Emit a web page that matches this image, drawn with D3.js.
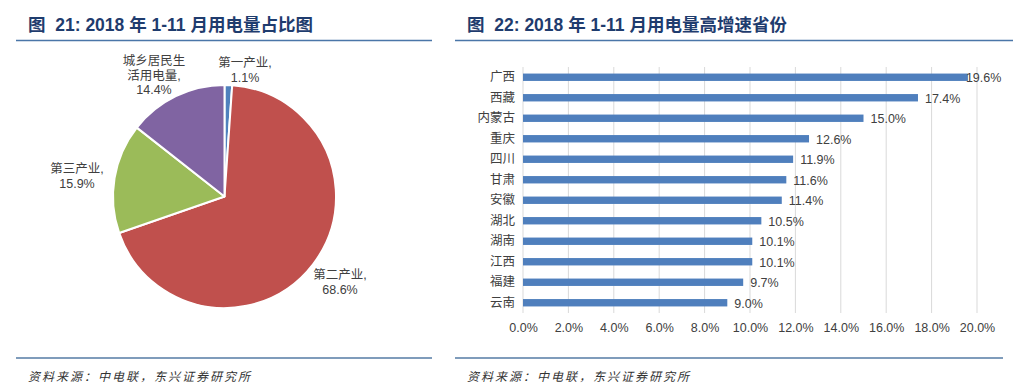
<!DOCTYPE html>
<html><head><meta charset="utf-8">
<script src="https://cdn.jsdelivr.net/npm/d3@7"></script>
<style>
body{margin:0;background:#fff;}
svg{display:block;}
text{font-family:"Liberation Sans","Noto Sans CJK SC",sans-serif;}
</style></head><body>
<svg id="c" width="1035" height="390"></svg>
<script>
// Pie data
const pieCategories = ["第一产业", "第二产业", "第三产业", "城乡居民生活用电量"];
const pieValues = [1.1, 68.6, 15.9, 14.4];
const pieColors = ["#4f81bd", "#c0504d", "#9bbb59", "#8064a2"];
// Bar data
const provinces = ["广西","西藏","内蒙古","重庆","四川","甘肃","安徽","湖北","湖南","江西","福建","云南"];
const growth = [19.6, 17.4, 15.0, 12.6, 11.9, 11.6, 11.4, 10.5, 10.1, 10.1, 9.7, 9.0];
const xTicks = [0,2,4,6,8,10,12,14,16,18,20];

const svg = d3.select("#c");
const titleColor = "#1f3c6e";
const lineColor = "#4a76a8";

// Titles and frame lines
const titles = [
  {x:28, text:"图  21: 2018 年 1-11 月用电量占比图", x1:16, x2:432, bx2:432},
  {x:467, text:"图  22: 2018 年 1-11 月用电量高增速省份", x1:455, x2:1013, bx2:1003}
];
titles.forEach(t=>{
  svg.append("text").attr("x",t.x).attr("y",31).attr("font-size",17.5).attr("font-weight","bold")
    .attr("fill",titleColor).attr("xml:space","preserve").style("white-space","pre")
    .attr("font-family","'Liberation Sans','Noto Sans CJK SC',sans-serif").text(t.text);
  svg.append("line").attr("x1",t.x1).attr("x2",t.x2).attr("y1",40.5).attr("y2",40.5)
    .attr("stroke",lineColor).attr("stroke-width",1.5);
  svg.append("line").attr("x1",t.x1).attr("x2",t.bx2).attr("y1",358).attr("y2",358)
    .attr("stroke","#7f9cbb").attr("stroke-width",2);
  svg.append("text").attr("x",t.x1+12).attr("y",381).attr("font-size",12).attr("font-style","italic")
    .attr("fill","#333").attr("font-family","'Noto Sans CJK SC',sans-serif").attr("letter-spacing",2)
    .text("资料来源：中电联，东兴证券研究所");
});

// Pie
const cx = 224.5, cy = 196.5, R = 111.5;
const pie = d3.pie().sort(null).value(d=>d)(pieValues);
const arc = d3.arc().innerRadius(0).outerRadius(R);
const pg = svg.append("g").attr("transform",`translate(${cx},${cy})`);
pg.selectAll("path").data(pie).join("path").attr("d",arc)
  .attr("fill",(d,i)=>pieColors[i]).attr("stroke","#fff").attr("stroke-width",2).attr("stroke-linejoin","round");

const pieLabels = [
  {lines:["第一产业,","1.1%"], x:245, y:67},
  {lines:["第二产业,","68.6%"], x:340, y:279},
  {lines:["第三产业,","15.9%"], x:77, y:173},
  {lines:["城乡居民生","活用电量,","14.4%"], x:154, y:65}
];
pieLabels.forEach((l,i)=>{
  const t = svg.append("text").attr("text-anchor","middle").attr("font-size",12.5).attr("fill","#404040")
    .attr("font-family","'Noto Sans CJK SC',sans-serif");
  l.lines.forEach((s,j)=>{
    t.append("tspan").attr("x",l.x).attr("y",l.y + j*14.5).text(s);
  });
});

// Bar chart
const x = d3.scaleLinear().domain([0,20]).range([523,977]);
const y = d3.scaleBand().domain(provinces).range([67,313]).paddingInner(0.64).paddingOuter(0.32);
const bg = svg.append("g");
bg.selectAll("line.grid").data(xTicks).join("line").attr("class","grid")
  .attr("x1",d=>x(d)).attr("x2",d=>x(d)).attr("y1",67).attr("y2",313)
  .attr("stroke","#d9d9d9").attr("stroke-width",1);
bg.selectAll("rect").data(growth).join("rect")
  .attr("x",x(0)).attr("y",(d,i)=>y(provinces[i])).attr("width",d=>x(d)-x(0)).attr("height",y.bandwidth())
  .attr("fill","#4f7fbd");
bg.selectAll("text.val").data(growth).join("text").attr("class","val")
  .attr("x",d=>x(d)+(d>19?-2:7)).attr("y",(d,i)=>y(provinces[i])+y.bandwidth()/2+5)
  .attr("font-size",12.5).attr("fill","#404040").attr("font-family","'Open Sans','Noto Sans',sans-serif")
  .text(d=>d.toFixed(1)+"%");
const yAxis = d3.axisLeft(y).tickSize(0).tickPadding(0);
const ya = svg.append("g").attr("transform",`translate(515,0)`).call(yAxis);
ya.select(".domain").remove();
ya.selectAll("text").attr("font-size",12.5).attr("fill","#404040").attr("font-family","'Noto Sans CJK SC',sans-serif");
const xAxis = d3.axisBottom(x).tickValues(xTicks).tickSize(0).tickPadding(0).tickFormat(d=>d.toFixed(1)+"%");
const xa = svg.append("g").attr("transform",`translate(0,323)`).call(xAxis);
xa.select(".domain").remove();
xa.selectAll("text").attr("font-size",12.5).attr("fill","#404040").attr("font-family","'Open Sans','Noto Sans',sans-serif");
</script>
</body></html>
